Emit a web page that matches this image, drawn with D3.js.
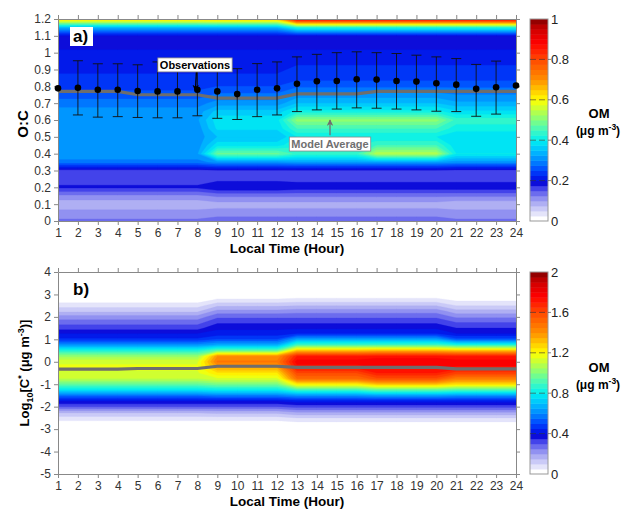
<!DOCTYPE html>
<html>
<head>
<meta charset="utf-8">
<script src="https://cdn.jsdelivr.net/npm/d3@7"></script>
<style>
  body { margin: 0; background: #fff; }
  svg text { font-family: Arial, "Liberation Sans", Helvetica, sans-serif; }
</style>
</head>
<body>
<svg id="chart" width="625" height="510"></svg>
<script>
// ---- data ----
const hours = [1,2,3,4,5,6,7,8,9,10,11,12,13,14,15,16,17,18,19,20,21,22,23,24];

// panel a: OM (ug m-3) vs O:C, one profile per group of hours (bottom -> top)
const ocLevels = [0,0.05,0.1,0.15,0.2,0.25,0.3,0.35,0.4,0.45,0.5,0.55,0.6,0.65,0.7,0.75,0.8,0.85,0.9,0.95,1,1.05,1.1,1.15,1.2];
const ocProfileA = [0.13,0.11,0.08,0.12,0.18,0.16,0.165,0.29,0.32,0.31,0.31,0.31,0.32,0.31,0.29,0.26,0.24,0.23,0.22,0.22,0.21,0.18,0.20,0.34,0.65];
const ocProfileB = [0.14,0.11,0.09,0.13,0.20,0.165,0.17,0.31,0.48,0.39,0.35,0.38,0.39,0.36,0.31,0.28,0.25,0.23,0.22,0.22,0.21,0.18,0.20,0.34,0.66];
const ocProfileC = [0.14,0.11,0.09,0.13,0.19,0.165,0.17,0.32,0.44,0.42,0.40,0.45,0.51,0.41,0.35,0.31,0.27,0.24,0.23,0.22,0.21,0.18,0.20,0.42,0.90];
const ocProfileD = [0.14,0.11,0.09,0.13,0.19,0.165,0.17,0.32,0.54,0.45,0.40,0.45,0.51,0.41,0.35,0.31,0.27,0.24,0.23,0.22,0.21,0.18,0.20,0.42,0.90];
const ocProfileE = [0.13,0.11,0.08,0.13,0.19,0.165,0.165,0.31,0.40,0.38,0.38,0.41,0.44,0.38,0.33,0.30,0.27,0.24,0.23,0.22,0.21,0.18,0.20,0.42,0.90];
const ocHourProfile = ["A","A","A","A","A","A","A","A","B","B","B","B","C","C","C","C","D","D","D","D","E","E","E","E"];

const ocModelAvg = [0.77,0.77,0.77,0.77,0.75,0.75,0.75,0.75,0.73,0.73,0.73,0.73,0.755,0.755,0.755,0.755,0.77,0.77,0.77,0.77,0.77,0.77,0.77,0.77];
const obsMean = [0.788,0.792,0.78,0.78,0.772,0.77,0.77,0.78,0.77,0.754,0.78,0.788,0.815,0.83,0.832,0.842,0.84,0.832,0.828,0.818,0.81,0.785,0.795,0.805];
const obsHigh = [null,0.952,0.934,0.934,0.928,0.945,0.945,0.915,0.93,0.905,0.935,0.945,0.975,0.99,1.0,1.005,1.0,0.995,0.985,0.975,0.965,0.93,0.95,null];
const obsLow  = [null,0.63,0.617,0.62,0.615,0.613,0.613,0.625,0.61,0.603,0.62,0.63,0.65,0.66,0.665,0.672,0.67,0.665,0.66,0.652,0.65,0.622,0.635,null];

// panel b: OM vs log10 C*
const logLevels = [-3.5,-3.25,-3,-2.75,-2.5,-2.25,-2,-1.75,-1.5,-1.25,-1,-0.75,-0.5,-0.25,0,0.25,0.5,0.75,1,1.25,1.5,1.75,2,2.25,2.5,2.75,3,3.25,3.5];
const logProfileP = [0,0,0,0.02,0.08,0.16,0.30,0.40,0.56,0.78,0.95,1.10,1.14,1.16,1.14,1.03,0.84,0.62,0.46,0.40,0.33,0.28,0.22,0.14,0.08,0.02,0,0,0];
const logProfileQ = [0,0,0,0.02,0.08,0.17,0.30,0.40,0.58,0.80,0.98,1.14,1.24,1.36,1.46,1.40,0.94,0.66,0.50,0.42,0.39,0.34,0.29,0.22,0.14,0.06,0.01,0,0];
const logProfileR = [0,0,0,0.03,0.10,0.20,0.32,0.42,0.62,0.90,1.22,1.50,1.60,1.72,1.78,1.70,1.30,0.90,0.65,0.45,0.39,0.34,0.29,0.23,0.15,0.07,0.01,0,0];
const logProfileS = [0,0,0,0.03,0.10,0.20,0.32,0.42,0.64,0.95,1.30,1.58,1.70,1.76,1.80,1.72,1.32,0.90,0.65,0.45,0.39,0.34,0.29,0.23,0.15,0.07,0.01,0,0];
const logProfileT = [0,0,0,0.03,0.10,0.20,0.32,0.42,0.62,0.92,1.25,1.45,1.62,1.74,1.78,1.70,1.30,0.85,0.52,0.40,0.35,0.30,0.24,0.17,0.10,0.04,0,0,0];
const logHourProfile = ["P","P","P","P","P","P","P","P","Q","Q","Q","Q","R","R","R","R","S","S","S","S","T","T","T","T"];
const logModelAvg = [-0.33,-0.33,-0.33,-0.33,-0.3,-0.3,-0.3,-0.3,-0.2,-0.2,-0.2,-0.2,-0.25,-0.25,-0.25,-0.25,-0.25,-0.25,-0.25,-0.25,-0.32,-0.32,-0.32,-0.32];

// tick labels
const ocTicks = [0,0.1,0.2,0.3,0.4,0.5,0.6,0.7,0.8,0.9,1,1.1,1.2];
const logTicks = [-5,-4,-3,-2,-1,0,1,2,3,4];
const omTicksA = [0,0.2,0.4,0.6,0.8,1];
const omTicksB = [0,0.4,0.8,1.2,1.6,2];

// ---- drawing ----
const svg = d3.select("#chart");

const jetStops = [
  [0, "#ffffff"], [0.04, "#e2e2fa"], [0.08, "#b8b8f4"], [0.12, "#8888f0"],
  [0.16, "#4848ec"], [0.19, "#0808d8"], [0.22, "#0020f0"], [0.26, "#0050ff"],
  [0.30, "#0088ff"], [0.35, "#00c0ff"], [0.40, "#00f0f0"], [0.45, "#40f8c0"],
  [0.50, "#80ff80"], [0.55, "#c0ff40"], [0.60, "#ffff00"], [0.65, "#ffc800"],
  [0.70, "#ff9000"], [0.80, "#ff4800"], [0.88, "#ff0000"], [0.95, "#d00000"],
  [1.0, "#800000"]
];
const jet = d3.scaleLinear()
  .domain(jetStops.map(d => d[0]))
  .range(jetStops.map(d => d[1]))
  .clamp(true);

const plotLeft = 58, plotRight = 516;
const x = d3.scaleLinear().domain([1, 24]).range([plotLeft, plotRight]);

function styleAxis(sel) {
  sel.select(".domain").attr("stroke", "#888");
  sel.selectAll(".tick line").attr("stroke", "#888");
  sel.selectAll(".tick text").attr("fill", "#333").style("font-size", "12px");
}

function drawPanel(p) {
  const y = d3.scaleLinear().domain(p.yDomain).range([p.bottom, p.top]);
  const g = svg.append("g");

  // clip to the plot box
  svg.append("clipPath").attr("id", "clip-" + p.id)
    .append("rect")
    .attr("x", plotLeft).attr("y", p.top)
    .attr("width", plotRight - plotLeft).attr("height", p.bottom - p.top);

  // filled contours from hour x level grid
  const n = hours.length, m = p.levels.length;
  const values = [];
  for (let j = 0; j < m; j++) {
    for (let i = 0; i < n; i++) values.push(p.profiles[p.hourProfile[i]][j]);
  }
  const step = p.vmax / p.nLevels;
  const thresholds = d3.range(1, p.nLevels).map(k => k * step);
  const dy = p.levels[1] - p.levels[0];
  const proj = d3.geoTransform({
    point(cx, cy) {
      this.stream.point(x(hours[0] + cx - 0.5), y(p.levels[0] + (cy - 0.5) * dy));
    }
  });
  const path = d3.geoPath(proj);
  g.append("g").attr("clip-path", `url(#clip-${p.id})`)
    .selectAll("path")
    .data(d3.contours().size([n, m]).thresholds(thresholds)(values))
    .join("path")
    .attr("d", path)
    .attr("fill", d => jet((d.value + step / 2) / p.vmax))
    .attr("stroke", d => jet((d.value + step / 2) / p.vmax))
    .attr("stroke-width", 0.3);

  // model average line
  g.append("path")
    .datum(p.modelAvg)
    .attr("fill", "none")
    .attr("stroke", "#6e6e6e")
    .attr("stroke-width", 3.2)
    .attr("d", d3.line().x((d, i) => x(hours[i])).y(d => y(d)));

  // axes (box with outward ticks on all four sides)
  const ticksOut = 4;
  g.append("g").attr("transform", `translate(0,${p.bottom})`)
    .call(d3.axisBottom(x).tickValues(hours).tickFormat(d3.format("d")).tickSize(ticksOut).tickSizeOuter(0))
    .call(styleAxis);
  g.append("g").attr("transform", `translate(0,${p.top})`)
    .call(d3.axisTop(x).tickValues(hours).tickFormat("").tickSize(ticksOut).tickSizeOuter(0))
    .call(styleAxis);
  g.append("g").attr("transform", `translate(${plotLeft},0)`)
    .call(d3.axisLeft(y).tickValues(p.yTicks).tickFormat(d => String(+d.toFixed(1))).tickSize(ticksOut).tickSizeOuter(0))
    .call(styleAxis);
  g.append("g").attr("transform", `translate(${plotRight},0)`)
    .call(d3.axisRight(y).tickValues(p.yTicks).tickFormat("").tickSize(ticksOut).tickSizeOuter(0))
    .call(styleAxis);

  // x title
  g.append("text")
    .attr("x", (plotLeft + plotRight) / 2)
    .attr("y", p.bottom + 32)
    .attr("text-anchor", "middle")
    .style("font-size", "13.5px").style("font-weight", "bold")
    .text("Local Time (Hour)");

  // colorbar
  const cbX = 530, cbW = 18;
  const cy = d3.scaleLinear().domain([0, p.vmax]).range([p.bottom, p.top]);
  const cb = svg.append("g");
  cb.selectAll("rect.band")
    .data([0].concat(thresholds))
    .join("rect")
    .attr("class", "band")
    .attr("x", cbX).attr("width", cbW)
    .attr("y", d => cy(Math.min(d + step, p.vmax)))
    .attr("height", d => cy(d) - cy(Math.min(d + step, p.vmax)) + 0.5)
    .attr("fill", d => d === 0 ? "#fff" : jet((d + step / 2) / p.vmax));
  cb.append("rect")
    .attr("x", cbX).attr("y", p.top)
    .attr("width", cbW).attr("height", p.bottom - p.top)
    .attr("fill", "none").attr("stroke", "#999");
  cb.selectAll("line.cbtick")
    .data(p.omTicks.slice(1, -1))
    .join("line")
    .attr("class", "cbtick")
    .attr("x1", cbX).attr("x2", cbX + cbW + 3)
    .attr("y1", d => cy(d)).attr("y2", d => cy(d))
    .attr("stroke", "#333").attr("stroke-opacity", 0.6)
    .attr("stroke-dasharray", "6,3");
  cb.selectAll("text.cblabel")
    .data(p.omTicks)
    .join("text")
    .attr("class", "cblabel")
    .attr("x", cbX + cbW + 3)
    .attr("y", d => cy(d))
    .attr("dy", "0.36em")
    .style("font-size", "13px").attr("fill", "#222")
    .text(d => String(d));
  cb.append("text")
    .attr("x", 599).attr("y", p.omY)
    .attr("text-anchor", "middle")
    .style("font-size", "13px").style("font-weight", "bold")
    .text("OM");
  const unit = cb.append("text")
    .attr("x", 598).attr("y", p.omY + 17)
    .attr("text-anchor", "middle")
    .style("font-size", "12px").style("font-weight", "bold");
  unit.append("tspan").text("(\u03bcg m");
  unit.append("tspan").attr("dy", -5).style("font-size", "8.5px").text("-3");
  unit.append("tspan").attr("dy", 5).text(")");

  // panel letter
  const lab = g.append("g");
  if (p.id === "a") {
    lab.append("rect").attr("x", 70).attr("y", p.top + 8).attr("width", 23).attr("height", 19).attr("fill", "#fff");
  }
  lab.append("text")
    .attr("x", 73).attr("y", p.top + 23)
    .style("font-size", "17px").style("font-weight", "bold")
    .text(p.id + ")");

  return { g, y };
}

// panel a
const pa = drawPanel({
  id: "a", top: 19, bottom: 221, yDomain: [0, 1.2], yTicks: ocTicks,
  levels: ocLevels,
  profiles: { A: ocProfileA, B: ocProfileB, C: ocProfileC, D: ocProfileD, E: ocProfileE },
  hourProfile: ocHourProfile, modelAvg: ocModelAvg,
  vmax: 1, nLevels: 40, omTicks: omTicksA, omY: 118
});

// observations with error bars
const ya = pa.y;
const obs = hours.map((h, i) => ({ h, mean: obsMean[i], lo: obsLow[i], hi: obsHigh[i] }));
const bars = pa.g.append("g").attr("stroke", "#111").attr("stroke-width", 0.9);
obs.filter(d => d.lo !== null).forEach(d => {
  bars.append("line").attr("x1", x(d.h)).attr("x2", x(d.h)).attr("y1", ya(d.lo)).attr("y2", ya(d.hi));
  bars.append("line").attr("x1", x(d.h) - 5).attr("x2", x(d.h) + 5).attr("y1", ya(d.lo)).attr("y2", ya(d.lo));
  bars.append("line").attr("x1", x(d.h) - 5).attr("x2", x(d.h) + 5).attr("y1", ya(d.hi)).attr("y2", ya(d.hi));
});
pa.g.append("g").selectAll("circle")
  .data(obs)
  .join("circle")
  .attr("cx", d => x(d.h)).attr("cy", d => ya(d.mean))
  .attr("r", 3.3).attr("fill", "#000");

// arrows
const defs = svg.append("defs");
[["arrBlack", "#000"], ["arrGray", "#707070"]].forEach(([id, c]) => {
  defs.append("marker").attr("id", id)
    .attr("viewBox", "0 0 10 10").attr("refX", 9).attr("refY", 5)
    .attr("markerWidth", 5).attr("markerHeight", 5).attr("orient", "auto")
    .append("path").attr("d", "M0,0 L10,5 L0,10 L3,5 Z").attr("fill", c);
});

function callout(g, text, hx, oc, color, border) {
  const t = g.append("text")
    .attr("x", x(hx)).attr("y", ya(oc)).attr("dy", "0.36em")
    .attr("text-anchor", "middle")
    .style("font-size", "11px").style("font-weight", "bold")
    .attr("fill", color).text(text);
  const bb = t.node().getBBox();
  g.insert("rect", () => t.node())
    .attr("x", bb.x - 2).attr("y", bb.y - 1)
    .attr("width", bb.width + 4).attr("height", bb.height + 2)
    .attr("fill", "#fff").attr("stroke", border).attr("stroke-width", 0.8);
}

pa.g.append("line")
  .attr("x1", x(7.95)).attr("y1", ya(0.885))
  .attr("x2", x(7.9)).attr("y2", ya(obsMean[7]) + 1)
  .attr("stroke", "#000").attr("stroke-width", 1.3)
  .attr("marker-end", "url(#arrBlack)");
callout(pa.g, "Observations", 7.88, 0.927, "#000", "#888");

pa.g.append("line")
  .attr("x1", x(14.66)).attr("y1", ya(0.51))
  .attr("x2", x(14.66)).attr("y2", ya(0.6))
  .attr("stroke", "#707070").attr("stroke-width", 1.3)
  .attr("marker-end", "url(#arrGray)");
callout(pa.g, "Model Average", 14.66, 0.457, "#707070", "#888");

// panel b
drawPanel({
  id: "b", top: 272, bottom: 474, yDomain: [-5, 4], yTicks: logTicks,
  levels: logLevels,
  profiles: { P: logProfileP, Q: logProfileQ, R: logProfileR, S: logProfileS, T: logProfileT },
  hourProfile: logHourProfile, modelAvg: logModelAvg,
  vmax: 2, nLevels: 40, omTicks: omTicksB, omY: 372
});

// y titles
svg.append("text")
  .attr("transform", "translate(28,124) rotate(-90)")
  .attr("text-anchor", "middle")
  .style("font-size", "15px").style("font-weight", "bold")
  .text("O:C");

const yb = svg.append("text")
  .attr("transform", "translate(29,373) rotate(-90)")
  .attr("text-anchor", "middle")
  .style("font-size", "13px").style("font-weight", "bold");
yb.append("tspan").text("Log");
yb.append("tspan").attr("dy", 4).style("font-size", "9px").text("10");
yb.append("tspan").attr("dy", -4).text("[C");
yb.append("tspan").attr("dy", -5).style("font-size", "9px").text("*");
yb.append("tspan").attr("dy", 5).text(" (\u03bcg m");
yb.append("tspan").attr("dy", -5).style("font-size", "9px").text("-3");
yb.append("tspan").attr("dy", 5).text(")]");
</script>
</body>
</html>
